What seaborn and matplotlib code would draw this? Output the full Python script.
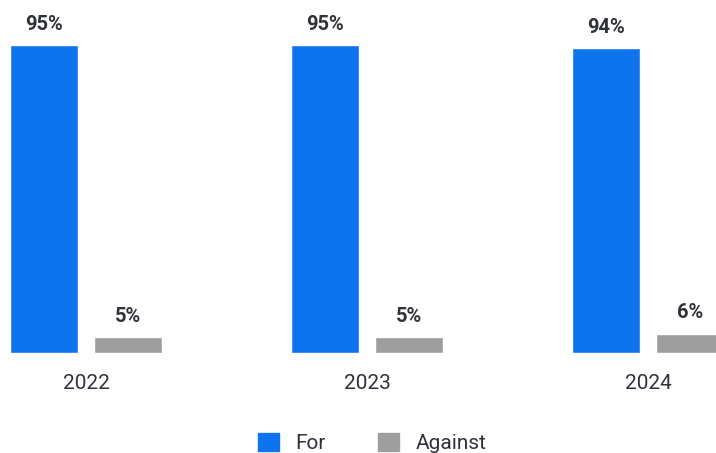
import seaborn as sns
import matplotlib.pyplot as plt
import pandas as pd
from matplotlib.patches import Patch

years = ["2022", "2023", "2024"]
votes_for = [95, 95, 94]
votes_against = [5, 5, 6]
series = ["For", "Against"]
colors = {"For": "#0e74ee", "Against": "#9e9e9e"}

df = pd.DataFrame({
    "year": years * 2,
    "share": votes_for + votes_against,
    "vote": ["For"] * 3 + ["Against"] * 3,
})

sns.set_style("white")
plt.rcParams["font.family"] = ["Roboto", "DejaVu Sans"]

fig = plt.figure(figsize=(7.16, 4.53), dpi=100)
ax = fig.add_axes([0, 100 / 453, 1, 324 / 453])

sns.barplot(data=df, x="year", y="share", hue="vote", hue_order=series,
            palette=colors, width=0.6, gap=0.19, saturation=1, ax=ax,
            legend=False)

for cont in ax.containers:
    labels = [f"{v:.0f}%" for v in cont.datavalues]
    ax.bar_label(cont, labels=labels, padding=8, fontsize=14.5,
                 fontweight="bold", color="#30323a")

ax.set_xlim(-0.306, 2.242)
ax.set_ylim(0, 100)
ax.set_xlabel("")
ax.set_ylabel("")
ax.set_yticks([])
ax.tick_params(axis="x", length=0, pad=15, labelsize=15, labelcolor="#30323a")
sns.despine(ax=ax, left=True, bottom=True)

handles = [Patch(color=colors[s], label=s) for s in series]
fig.legend(handles=handles, loc="lower center", bbox_to_anchor=(0.52, -0.042),
           ncol=2, frameon=False, fontsize=15, handlelength=1.0,
           handleheight=1.0, handletextpad=0.8, columnspacing=2.5,
           labelcolor="#30323a")

fig.savefig("out.png", dpi=100)
